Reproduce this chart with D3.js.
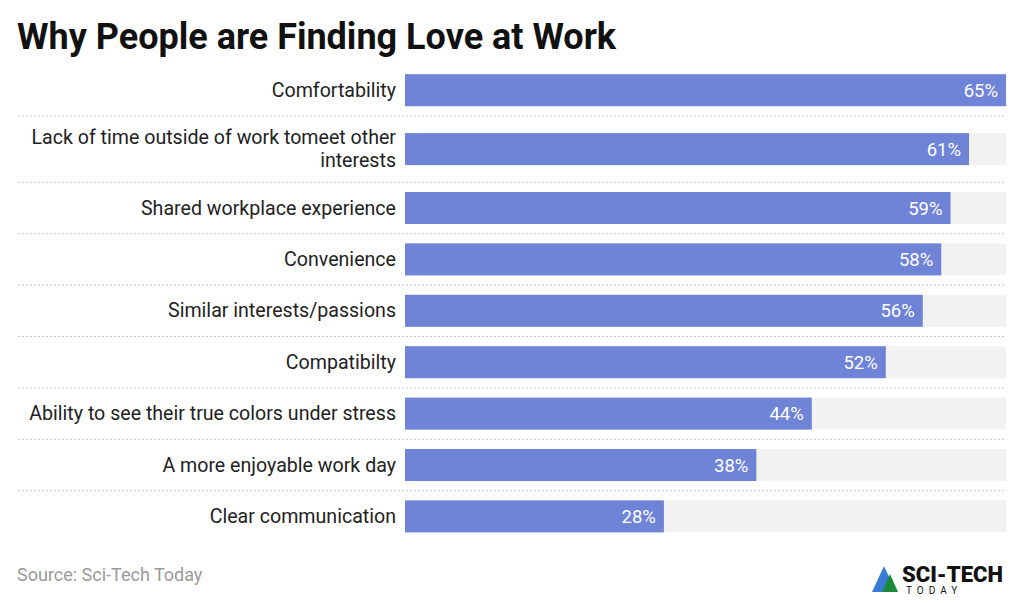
<!DOCTYPE html>
<html><head><meta charset="utf-8">
<script src="https://cdn.jsdelivr.net/npm/d3@7"></script>
<style>body{margin:0;background:#fff;font-family:Roboto,sans-serif}</style>
</head><body>
<svg id="chart" width="1023" height="603"></svg>
<script>
const labels = [
  ["Comfortability"],
  ["Lack of time outside of work tomeet other", "interests"],
  ["Shared workplace experience"],
  ["Convenience"],
  ["Similar interests/passions"],
  ["Compatibilty"],
  ["Ability to see their true colors under stress"],
  ["A more enjoyable work day"],
  ["Clear communication"]
];
const values = [65, 61, 59, 58, 56, 52, 44, 38, 28];

const svg = d3.select("#chart");
const x = d3.scaleLinear().domain([0, 65]).range([405, 1006]);

svg.append("text").attr("x", 17).attr("y", 49)
  .attr("font-size", 36).attr("font-weight", 700).attr("fill", "#111")
  .text("Why People are Finding Love at Work");

// row layout: base height plus extra for wrapped labels
const rowH = 51.4, extra = 15, barH = 32;
let y0 = 64.5;
const rows = labels.map((l, i) => {
  const h = rowH + (l.length - 1) * extra;
  const r = { top: y0, h, label: l, value: values[i] };
  y0 += h;
  return r;
});

const g = svg.selectAll("g.row").data(rows).join("g").attr("class", "row");

g.filter((d, i) => i < rows.length - 1).append("line")
  .attr("x1", 18).attr("x2", 1006)
  .attr("y1", d => d.top + d.h).attr("y2", d => d.top + d.h)
  .attr("stroke", "#c8c8c8").attr("stroke-dasharray", "2,2");

g.append("rect").attr("x", x(0)).attr("width", x(65) - x(0))
  .attr("y", d => d.top + d.h / 2 - barH / 2).attr("height", barH)
  .attr("fill", "#f2f2f2");

g.append("rect").attr("x", x(0)).attr("width", d => x(d.value) - x(0))
  .attr("y", d => d.top + d.h / 2 - barH / 2).attr("height", barH)
  .attr("fill", "#6f84d6");

g.append("text").attr("x", d => x(d.value) - 8)
  .attr("y", d => d.top + d.h / 2 + 6.5)
  .attr("text-anchor", "end").attr("font-size", 18.5).attr("fill", "#fff")
  .text(d => d.value + "%");

g.append("text").attr("text-anchor", "end").attr("font-size", 19.6).attr("fill", "#222")
  .each(function (d) {
    const n = d.label.length;
    d3.select(this).selectAll("tspan").data(d.label).join("tspan")
      .attr("x", 396)
      .attr("y", (t, j) => d.top + d.h / 2 + 6.5 + (j - (n - 1) / 2) * 22.5)
      .text(t => t);
  });

svg.append("text").attr("x", 17).attr("y", 581).attr("font-size", 18)
  .attr("fill", "#9a9a9a").text("Source: Sci-Tech Today");

// logo
const logo = svg.append("g").attr("transform", "translate(872,560)");
logo.append("path").attr("d", "M0,32 L12,6 L24,32 Z").attr("fill", "#3a7bd5");
logo.append("path").attr("d", "M10,32 L18,14 L26,32 Z").attr("fill", "#1a8a3a");
logo.append("text").attr("x", 30).attr("y", 22).attr("font-size", 22)
  .attr("font-weight", 900).attr("fill", "#111").text("SCI-TECH");
logo.append("text").attr("x", 34).attr("y", 34).attr("font-size", 10)
  .attr("letter-spacing", 5).attr("fill", "#111").text("TODAY");
</script>
</body></html>
